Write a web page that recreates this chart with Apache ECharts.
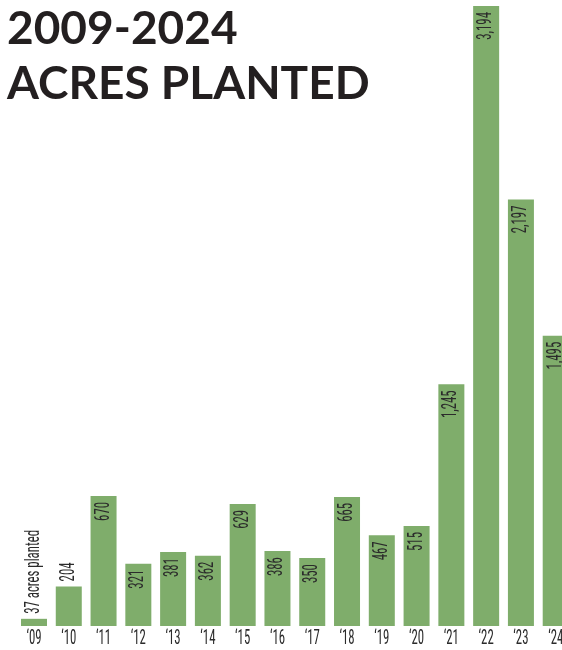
<!DOCTYPE html>
<html><head><meta charset="utf-8">
<script src="https://cdn.jsdelivr.net/npm/echarts@6/dist/echarts.min.js"></script>
<style>html,body{margin:0;padding:0;background:#fff}#c{width:562px;height:650px}</style>
</head><body><div id="c"></div>
<script>
const years = ["‘09","‘10","‘11","‘12","‘13","‘14","‘15","‘16","‘17","‘18","‘19","‘20","‘21","‘22","‘23","‘24"];
const acres = [37,204,670,321,381,362,629,386,350,665,467,515,1245,3194,2197,1495];
const valueLabels = ["37 acres planted","204","670","321","381","362","629","386","350","665","467","515","1,245","3,194","2,197","1,495"];
const outsideIdx = [0,1];
const titleText = "2009-2024\nACRES PLANTED";

const FONT = '"Roboto Condensed","Liberation Sans Narrow",sans-serif';
const SQ = 0.64, FS = 20, TXT = '#2b2b2b';
const chart = echarts.init(document.getElementById('c'));
chart.setOption({
  animation:false,
  title:{text:titleText,left:2,top:-3,textStyle:{fontFamily:'Lato',fontWeight:700,fontSize:46,lineHeight:55,color:'#231f20'}},
  grid:{left:16.6,right:-11.1,top:6,bottom:24,outerBoundsMode:'none',containLabel:false},
  xAxis:{type:'category',data:years,axisLine:{show:false},axisTick:{show:false},axisLabel:{show:false}},
  yAxis:{type:'value',min:0,max:3194,show:false,splitLine:{show:false}},
  series:[
    {type:'bar',data:acres,barWidth:26,itemStyle:{color:'#7fad6b'},clip:false},
    {type:'custom',clip:false,z:5,
     data:acres.map((v,i)=>[i,v]),
     renderItem:(params,api)=>{
       const i=api.value(0), v=api.value(1);
       const top=api.coord([i,v]), base=api.coord([i,0]);
       const out=outsideIdx.includes(i);
       return {type:'group',children:[
         {type:'text',x:top[0],y:out?top[1]-5:top[1]+6,rotation:Math.PI/2,scaleX:SQ,
          style:{text:valueLabels[i],fontFamily:FONT,fontSize:FS,fill:TXT,
                 align:out?'left':'right',verticalAlign:'middle'}},
         {type:'text',x:base[0],y:base[1]+13,scaleX:SQ,
          style:{text:years[i],fontFamily:FONT,fontSize:FS,fill:TXT,align:'center',verticalAlign:'middle'}}
       ]};
     }}
  ]
});
</script></body></html>
